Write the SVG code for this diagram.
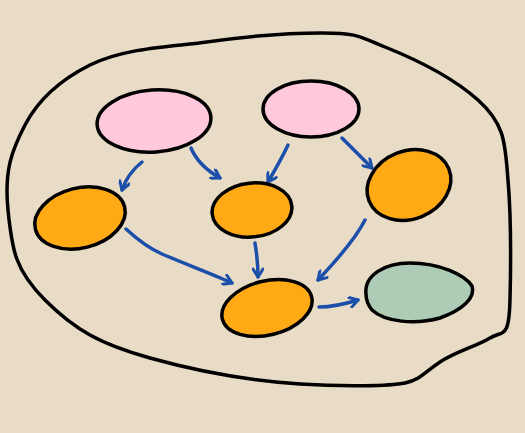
<svg xmlns="http://www.w3.org/2000/svg" width="525" height="433" viewBox="0 0 525 433">
<defs>
<style>
.node{stroke:#000;stroke-width:3.5;}
.pink{fill:#FFC8DB;}
.orange{fill:#FFA914;}
.green{fill:#AECCB5;}
.edge{fill:none;stroke:#1B4FAA;stroke-width:3.5;stroke-linecap:round;stroke-linejoin:round;}
</style>
<marker id="ah" viewBox="0 0 12 12" refX="10" refY="6" markerWidth="12" markerHeight="12" markerUnits="userSpaceOnUse" orient="auto">
<path d="M2,1 L10,6 L2,11" fill="none" stroke="#1B4FAA" stroke-width="3" stroke-linecap="round" stroke-linejoin="round"/>
</marker>
</defs>
<rect width="525" height="433" fill="#E8DCC7"/>
<path id="container" d="M199,43 C240,37 285,33 322,33 S360,37 385,47 S450,75 478,100 S505,145 508,180 S511,260 510,300 S503,330 490,338 S455,352 440,362 S420,380 405,383 S345,387 300,384 S200,372 150,358 S75,330 45,300 S12,250 8,210 S12,150 25,125 S60,80 90,65 S160,47 199,43 Z" fill="none" stroke="#000" stroke-width="3.5"/>
<g id="edges">
<path class="edge" d="M142,162 C132,170 126,178 122,190" marker-end="url(#ah)"/>
<path class="edge" d="M191,148 C196,160 206,170 220,178" marker-end="url(#ah)"/>
<path class="edge" d="M288,145 C282,158 275,170 268,182" marker-end="url(#ah)"/>
<path class="edge" d="M342,138 C352,148 362,158 372,168" marker-end="url(#ah)"/>
<path class="edge" d="M126,229 C138,240 148,248 162,254 C185,264 210,273 232,283" marker-end="url(#ah)"/>
<path class="edge" d="M255,243 C257,255 258,265 258,277" marker-end="url(#ah)"/>
<path class="edge" d="M365,220 C355,240 335,262 318,280" marker-end="url(#ah)"/>
<path class="edge" d="M319,307 C332,307 345,304 358,300" marker-end="url(#ah)"/>
</g>
<g id="pink1"><ellipse class="node pink" cx="154" cy="121" rx="57" ry="31" transform="rotate(-4 154 121)"/></g>
<g id="pink2"><ellipse class="node pink" cx="311" cy="109" rx="48" ry="28"/></g>
<g id="orange1"><ellipse class="node orange" cx="80" cy="218" rx="46" ry="30" transform="rotate(-14 80 218)"/></g>
<g id="orange2"><ellipse class="node orange" cx="252" cy="210" rx="40" ry="27" transform="rotate(-6 252 210)"/></g>
<g id="orange3"><ellipse class="node orange" cx="409" cy="185" rx="43" ry="34" transform="rotate(-22 409 185)"/></g>
<g id="orange4"><ellipse class="node orange" cx="267" cy="308" rx="46" ry="27" transform="rotate(-14 267 308)"/></g>
<g id="green"><path class="node green" d="M366,294 C364,275 385,263 410,263 C440,263 465,275 472,286 C476,298 462,310 440,318 C415,325 385,322 372,310 C368,305 366,300 366,294 Z"/></g>
</svg>
